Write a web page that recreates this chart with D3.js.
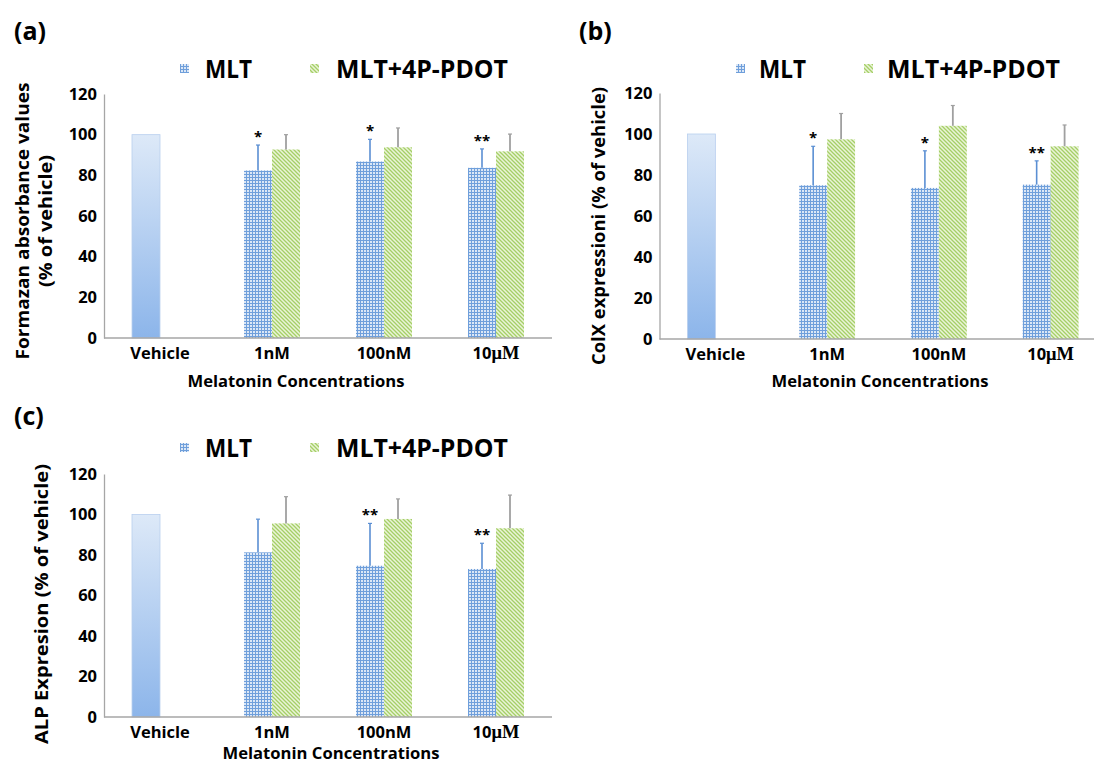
<!DOCTYPE html>
<html>
<head>
<meta charset="utf-8">
<script src="https://cdn.jsdelivr.net/npm/d3@7"></script>
<style>
  body { margin: 0; background: #fff; }
  text { font-family: "Open Sans", sans-serif; font-weight: bold; fill: #000; }
</style>
</head>
<body>
<script>
const categories = ["Vehicle", "1nM", "100nM", "10µM"];
const yTicks = [0, 20, 40, 60, 80, 100, 120];
const seriesNames = ["MLT", "MLT+4P-PDOT"];
const vehicleValue = 100;

// (a) formazan absorbance
const mltA = [82.4, 86.8, 83.7];
const mltErrA = [12.5, 10.9, 9.3];
const pdotA = [92.7, 93.8, 91.8];
const pdotErrA = [7.3, 9.5, 8.5];
const starsA = ["*", "*", "**"];

// (b) ColX expression
const mltB = [75.0, 73.7, 75.3];
const mltErrB = [19.0, 18.1, 11.6];
const pdotB = [97.4, 104.0, 94.0];
const pdotErrB = [12.6, 9.9, 10.4];
const starsB = ["*", "*", "**"];

// (c) ALP expression
const mltC = [81.3, 74.7, 73.1];
const mltErrC = [16.4, 20.9, 12.7];
const pdotC = [95.6, 97.8, 93.2];
const pdotErrC = [13.2, 9.9, 16.4];
const starsC = ["", "**", "**"];

const W = 1094, H = 763;
const svg = d3.select("body").append("svg")
  .attr("width", W).attr("height", H);

const defs = svg.append("defs");

// small grid pattern for MLT
const grid = defs.append("pattern").attr("id", "gridPat")
  .attr("patternUnits", "userSpaceOnUse").attr("width", 3).attr("height", 3);
grid.append("rect").attr("width", 3).attr("height", 3).attr("fill", "#dbe7f6");
grid.append("rect").attr("width", 3).attr("height", 1).attr("fill", "#6f9fdb");
grid.append("rect").attr("width", 1).attr("height", 3).attr("fill", "#6f9fdb");

// diagonal stripes for MLT+4P-PDOT
const diag = defs.append("pattern").attr("id", "diagPat")
  .attr("patternUnits", "userSpaceOnUse").attr("width", 4).attr("height", 4);
diag.append("rect").attr("width", 4).attr("height", 4).attr("fill", "#eaf4d8");
diag.append("path").attr("d", "M-1,-1 L5,5 M-1,3 L1,5 M3,-1 L5,1")
  .attr("stroke", "#a5cf66").attr("stroke-width", 1.3);

// vehicle gradient
const grad = defs.append("linearGradient").attr("id", "vehGrad")
  .attr("x1", 0).attr("y1", 0).attr("x2", 0).attr("y2", 1);
grad.append("stop").attr("offset", "0%").attr("stop-color", "#dde9f8");
grad.append("stop").attr("offset", "100%").attr("stop-color", "#8cb5ea");

const panels = [
  { tag: "(a)", tagX: 14, tagY: 40, mlt: mltA, mltErr: mltErrA, pdot: pdotA, pdotErr: pdotErrA, stars: starsA,
    xRange: [104, 552], yRange: [338, 94], axisEnd: 552,
    legY: 69, legX: [180, 205, 310, 336], legLen: [47, 172],
    yTitle: ["Formazan absorbance values", "(% of vehicle)"], yTitleX: [29, 52], yTitleY: 221, yTitleLen: [277, 132],
    xTitleX: 296, xTitleY: 387 },
  { tag: "(b)", tagX: 579, tagY: 40, mlt: mltB, mltErr: mltErrB, pdot: pdotB, pdotErr: pdotErrB, stars: starsB,
    xRange: [659.5, 1106.5], yRange: [339, 93], axisEnd: 1094,
    legY: 69, legX: [736, 759, 864, 887], legLen: [47, 173],
    yTitle: ["ColX expressioni (% of vehicle)"], yTitleX: [605], yTitleY: 226, yTitleLen: [278],
    xTitleX: 880, xTitleY: 387 },
  { tag: "(c)", tagX: 14, tagY: 425, mlt: mltC, mltErr: mltErrC, pdot: pdotC, pdotErr: pdotErrC, stars: starsC,
    xRange: [104, 552], yRange: [717, 474], axisEnd: 552,
    legY: 448, legX: [180, 205, 310, 336], legLen: [47, 172],
    yTitle: ["ALP Expresion (% of vehicle)"], yTitleX: [48], yTitleY: 604, yTitleLen: [280],
    xTitleX: 331, xTitleY: 759 }
];

panels.forEach(p => {
  const g = svg.append("g");
  const x = d3.scaleBand().domain(categories).range(p.xRange);
  const y = d3.scaleLinear().domain([0, 120]).range(p.yRange);
  const barW = x.bandwidth() / 4;
  const slot = d3.scaleBand().domain(seriesNames)
    .range([-barW, barW]);

  // panel tag
  g.append("text").attr("x", p.tagX).attr("y", p.tagY)
    .style("font-size", "25px").text(p.tag);

  // y axis
  const ya = g.append("g").attr("transform", `translate(${p.xRange[0]},0)`)
    .call(d3.axisLeft(y).tickValues(yTicks).tickSize(0).tickPadding(7).tickSizeOuter(0));
  ya.select(".domain").attr("stroke", "#a6a6a6").attr("stroke-width", 1.3);
  ya.selectAll("text").style("font-size", "16.5px").style("font-family", "'Open Sans', sans-serif");

  // bars: vehicle in first slot
  const cx = c => x(c) + x.bandwidth() / 2;
  g.append("rect")
    .attr("x", cx(categories[0]) + slot(seriesNames[0]))
    .attr("y", y(vehicleValue))
    .attr("width", barW)
    .attr("height", y(0) - y(vehicleValue))
    .attr("fill", "url(#vehGrad)")
    .attr("stroke", "#b8cfee").attr("stroke-width", 0.8);

  const rows = categories.slice(1).map((c, i) => ({
    c, mlt: p.mlt[i], mltErr: p.mltErr[i], pdot: p.pdot[i], pdotErr: p.pdotErr[i], star: p.stars[i]
  }));

  rows.forEach(d => {
    const bx1 = cx(d.c) + slot(seriesNames[0]);
    const bx2 = cx(d.c) + slot(seriesNames[1]);
    g.append("rect").attr("x", bx1).attr("y", y(d.mlt))
      .attr("width", barW).attr("height", y(0) - y(d.mlt)).attr("fill", "url(#gridPat)");
    g.append("rect").attr("x", bx2).attr("y", y(d.pdot))
      .attr("width", barW).attr("height", y(0) - y(d.pdot)).attr("fill", "url(#diagPat)");

    // error bars (upper half only)
    const e1 = bx1 + barW / 2, e2 = bx2 + barW / 2;
    g.append("line").attr("x1", e1).attr("x2", e1)
      .attr("y1", y(d.mlt)).attr("y2", y(d.mlt + d.mltErr))
      .attr("stroke", "#5b8fd3").attr("stroke-width", 1.6);
    g.append("line").attr("x1", e1 - 2).attr("x2", e1 + 2)
      .attr("y1", y(d.mlt + d.mltErr)).attr("y2", y(d.mlt + d.mltErr))
      .attr("stroke", "#5b8fd3").attr("stroke-width", 1.2);
    g.append("line").attr("x1", e2).attr("x2", e2)
      .attr("y1", y(d.pdot)).attr("y2", y(d.pdot + d.pdotErr))
      .attr("stroke", "#a0a0a0").attr("stroke-width", 1.8);
    g.append("line").attr("x1", e2 - 2).attr("x2", e2 + 2)
      .attr("y1", y(d.pdot + d.pdotErr)).attr("y2", y(d.pdot + d.pdotErr))
      .attr("stroke", "#a0a0a0").attr("stroke-width", 1.2);

    if (d.star) {
      g.append("text").attr("x", e1).attr("y", y(d.mlt + d.mltErr) - 3)
        .attr("text-anchor", "middle").style("font-size", "15px")
        .text(d.star);
    }
  });

  // x axis
  const xa = g.append("g").attr("transform", `translate(0,${y(0)})`)
    .call(d3.axisBottom(x).tickSize(0).tickPadding(9).tickSizeOuter(0));
  xa.select(".domain").attr("d", `M${p.xRange[0]},0H${p.axisEnd}`)
    .attr("stroke", "#a6a6a6").attr("stroke-width", 1.3);
  xa.selectAll("text").style("font-size", "16.5px").style("font-family", "'Open Sans', sans-serif")
    .each(function(t) {
      if (t === "10µM") {
        const el = d3.select(this).text(null);
        el.append("tspan").text("10");
        el.append("tspan").style("font-family", "'Liberation Serif', serif")
          .style("font-size", "18.5px").text("μM");
      }
    });

  // titles
  p.yTitle.forEach((t, i) => {
    g.append("text")
      .attr("transform", `translate(${p.yTitleX[i]},${p.yTitleY}) rotate(-90)`)
      .attr("text-anchor", "middle").style("font-size", "18px")
      .attr("textLength", p.yTitleLen[i]).attr("lengthAdjust", "spacingAndGlyphs")
      .text(t);
  });
  g.append("text").attr("x", p.xTitleX).attr("y", p.xTitleY)
    .attr("text-anchor", "middle").style("font-size", "16.5px")
    .attr("textLength", 217).attr("lengthAdjust", "spacingAndGlyphs")
    .text("Melatonin Concentrations");

  // legend
  const fills = ["url(#gridPat)", "url(#diagPat)"];
  seriesNames.forEach((s, i) => {
    g.append("rect").attr("x", p.legX[i * 2]).attr("y", p.legY - 5)
      .attr("width", 9).attr("height", 9).attr("fill", fills[i]);
    g.append("text").attr("x", p.legX[i * 2 + 1]).attr("y", p.legY)
      .attr("dy", "0.35em").style("font-size", "25px")
      .attr("textLength", p.legLen[i]).attr("lengthAdjust", "spacingAndGlyphs")
      .text(s);
  });
});
</script>
</body>
</html>
